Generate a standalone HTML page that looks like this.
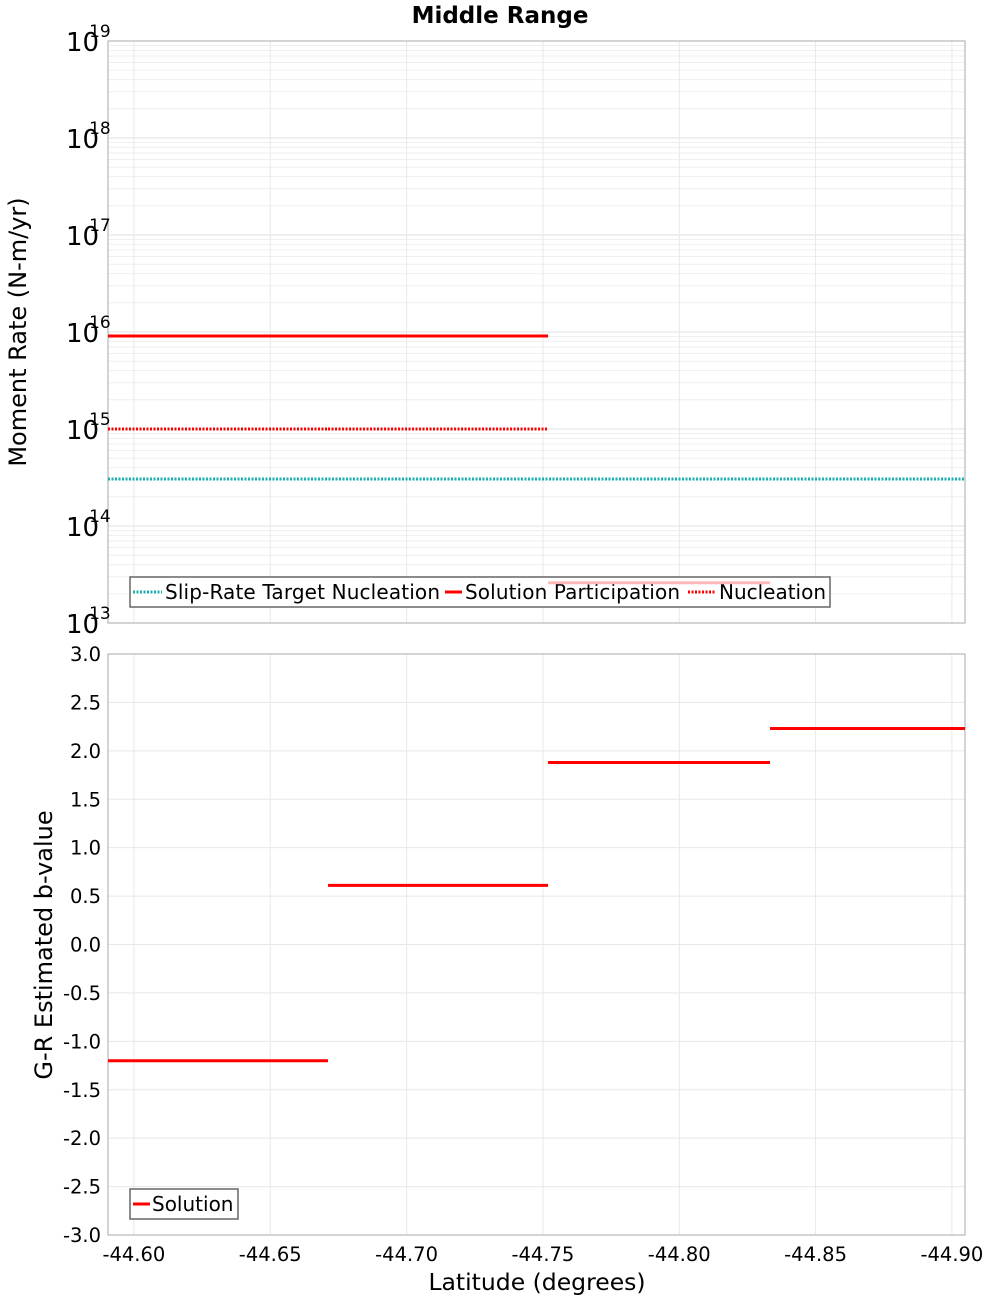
<!DOCTYPE html>
<html><head><meta charset="utf-8"><style>
html,body{margin:0;padding:0;background:#fff;}
svg{display:block;font-family:"DejaVu Sans","Liberation Sans",sans-serif;}
</style></head><body>
<svg id="c" width="1000" height="1300"></svg>
<script>
const xTicks=[-44.60,-44.65,-44.70,-44.75,-44.80,-44.85,-44.90];
const topDecades=[13,14,15,16,17,18,19];
const bTicks=[3.0,2.5,2.0,1.5,1.0,0.5,0.0,-0.5,-1.0,-1.5,-2.0,-2.5,-3.0];
const segStart=[-44.5905,-44.6712,-44.7519,-44.8333];
const segEnd=[-44.6712,-44.7519,-44.8333,-44.9048];
const partVals=[9.1e15,9.1e15,2.6e13];
const partStart=[-44.5905,-44.6712,-44.7519];
const partEnd=[-44.6712,-44.7519,-44.8333];
const nuclVals=[1e15,1e15];
const nuclStart=[-44.5905,-44.6712];
const nuclEnd=[-44.6712,-44.7519];
const targetVal=3.05e14;
const bVals=[-1.2,0.61,1.88,2.23];

const svg=document.getElementById('c');
const NS='http://www.w3.org/2000/svg';
function mk(t,a,txt){const e=document.createElementNS(NS,t);for(const k in a)e.setAttribute(k,a[k]);if(txt!==undefined)e.textContent=txt;svg.appendChild(e);return e;}
const L=108,R=965,T1=41,B1=623,T2=654,B2=1235;
const xmin=-44.5905,xmax=-44.9048;
const X=v=>L+(v-xmin)/(xmax-xmin)*(R-L);
const Y1=v=>B1-(Math.log10(v)-13)/6*(B1-T1);
const Y2=v=>B2-(v+3)/6*(B2-T2);

let t=mk('text',{x:500,y:23,'text-anchor':'middle','font-size':23,'font-weight':'bold'},'Middle Range');


for(let d=13;d<19;d++)for(let m=1;m<10;m++){const y=Y1(m*Math.pow(10,d));const g=mk('line',{x1:L,x2:R,y1:y,y2:y,stroke:m==1?'#e2e2e2':'#efefef','stroke-width':1});}
xTicks.forEach(v=>{const g=mk('line',{x1:X(v),x2:X(v),y1:T1,y2:B1,stroke:'#e8e8e8'});
const g2=mk('line',{x1:X(v),x2:X(v),y1:T2,y2:B2,stroke:'#e8e8e8'});});
bTicks.forEach(v=>{const g=mk('line',{x1:L,x2:R,y1:Y2(v),y2:Y2(v),stroke:'#e8e8e8'});});

let f=mk('rect',{x:L,y:T1,width:R-L,height:B1-T1,fill:'none',stroke:'#aaa'});
f=mk('rect',{x:L,y:T2,width:R-L,height:B2-T2,fill:'none',stroke:'#aaa'});

topDecades.forEach(d=>{const y=Y1(Math.pow(10,d));const g=mk('text',{x:66,y:y+10,'text-anchor':'start','font-size':26});g.textContent='10';
const s=document.createElementNS(NS,'tspan');s.setAttribute('font-size',17);s.setAttribute('dy',-14);s.setAttribute('dx',-10);s.textContent=String(d);g.appendChild(s);
});
bTicks.forEach(v=>{const g=mk('text',{x:101,y:Y2(v)+7,'text-anchor':'end','font-size':19.5},v.toFixed(1));});
xTicks.forEach(v=>{const g=mk('text',{x:X(v),y:1261,'text-anchor':'middle','font-size':19.5},v.toFixed(2));});

t=mk('text',{x:0,y:0,transform:'translate(26,332) rotate(-90)','text-anchor':'middle','font-size':24},'Moment Rate (N-m/yr)');
t=mk('text',{x:0,y:0,transform:'translate(52,945) rotate(-90)','text-anchor':'middle','font-size':24},'G-R Estimated b-value');
t=mk('text',{x:537,y:1290,'text-anchor':'middle','font-size':23.5},'Latitude (degrees)');

let s=mk('line',{x1:L,x2:R,y1:Y1(targetVal),y2:Y1(targetVal),stroke:'#1aafb0','stroke-width':3,'stroke-dasharray':'2,1.5'});
nuclVals.forEach((v,i)=>{const e=mk('line',{x1:X(nuclStart[i]),x2:X(nuclEnd[i]),y1:Y1(v),y2:Y1(v),stroke:'#f00','stroke-width':3,'stroke-dasharray':'2,1.5'});});

let lg=mk('rect',{x:130,y:577,width:700,height:30,fill:'#fff',stroke:'#666','stroke-width':1.5});
let le=mk('line',{x1:133,x2:162,y1:592,y2:592,stroke:'#1aafb0','stroke-width':3,'stroke-dasharray':'2,1.5'});
le=mk('text',{x:165,y:599,'font-size':20,textLength:275},'Slip-Rate Target Nucleation');
le=mk('line',{x1:445,x2:462,y1:592,y2:592,stroke:'#f00','stroke-width':3});
le=mk('text',{x:465,y:599,'font-size':20,textLength:215},'Solution Participation');
le=mk('line',{x1:688,x2:716,y1:592,y2:592,stroke:'#f00','stroke-width':3,'stroke-dasharray':'2,1.5'});
le=mk('text',{x:719,y:599,'font-size':20,textLength:107},'Nucleation');

partVals.forEach((v,i)=>{const e=mk('line',{x1:X(partStart[i]),x2:X(partEnd[i]),y1:Y1(v),y2:Y1(v),stroke:v<1e14?'#ffb8b8':'#f00','stroke-width':3});});

bVals.forEach((v,i)=>{const e=mk('line',{x1:X(segStart[i]),x2:X(segEnd[i]),y1:Y2(v),y2:Y2(v),stroke:'#f00','stroke-width':3});});

lg=mk('rect',{x:130,y:1189,width:108,height:30,fill:'#fff',stroke:'#666','stroke-width':1.5});
le=mk('line',{x1:133,x2:150,y1:1204,y2:1204,stroke:'#f00','stroke-width':3});
le=mk('text',{x:152,y:1211,'font-size':20},'Solution');
</script>
</body></html>
